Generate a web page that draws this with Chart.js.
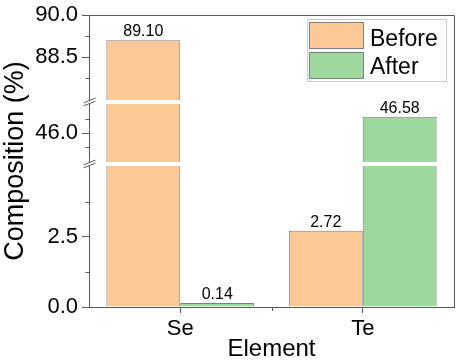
<!DOCTYPE html>
<html>
<head>
<meta charset="utf-8">
<script src="https://cdn.jsdelivr.net/npm/chart.js@4/dist/chart.umd.min.js"></script>
<style>
  body { margin: 0; background: #fff; }
  #wrap { position: relative; width: 460px; height: 361px; font-family: "Liberation Sans", Arial, sans-serif; }
  #legend { position: absolute; left: 307px; top: 19px; width: 138px; height: 61px; border: 1px solid #c8c8c8; }
  .sw { position: absolute; width: 53px; height: 25px; border: 1px solid #7f7f7f; }
  .lt { position: absolute; font-size: 23px; line-height: 23px; color: #000; }
</style>
</head>
<body>
<div id="wrap">
  <canvas id="chart" width="460" height="361"></canvas>
  <div id="legend"></div>
  <div class="sw" style="left:309px; top:22px; background:#FBC896;"></div>
  <div class="sw" style="left:309px; top:52px; background:#9DD89D;"></div>
  <div class="lt" style="left:370px; top:27px;">Before</div>
  <div class="lt" style="left:370px; top:55px;">After</div>
</div>
<script>
// Daten
const elements = ['Se', 'Te'];
const before = [89.10, 2.72];
const after = [0.14, 46.58];

// gebrochene y-Achse
const axisSegments = [[0, 5], [45, 47], [87, 90]];
const yMajorTicks = [0, 2.5, 46, 88.5, 90];
const yMinorTicks = [1.25, 3.75, 45.5, 46.5, 87.75, 89.25];
const breakGap = 6;

const axisColor = '#595959';

class BrokenAxis extends Chart.LinearScale {
    buildTicks() {
        super.buildTicks();
        return yMajorTicks.map(v => ({ value: v }));
    }
    unitDecimal() {
        const total = axisSegments.reduce((s, seg) => s + seg[1] - seg[0], 0);
        const gap = breakGap / this._length;
        return { gap: gap, unit: (1 - gap * (axisSegments.length - 1)) / total };
    }
    getPixelForValue(value) {
        if (value === null || isNaN(value)) return NaN;
        const { gap, unit } = this.unitDecimal();
        let dec = 0;
        for (let i = 0; i < axisSegments.length; i++) {
            const lo = axisSegments[i][0], hi = axisSegments[i][1];
            if (value <= hi || i === axisSegments.length - 1) {
                dec += (Math.max(value, lo) - lo) * unit;
                return this.getPixelForDecimal(dec);
            }
            dec += (hi - lo) * unit + gap;
        }
    }
    getValueForPixel(pixel) {
        const { gap, unit } = this.unitDecimal();
        let dec = this.getDecimalForPixel(pixel);
        for (let i = 0; i < axisSegments.length; i++) {
            const lo = axisSegments[i][0], hi = axisSegments[i][1];
            const len = (hi - lo) * unit;
            if (dec <= len || i === axisSegments.length - 1) return lo + Math.max(dec, 0) / unit;
            dec -= len + gap;
        }
    }
}
BrokenAxis.id = 'broken';
BrokenAxis.defaults = Chart.LinearScale.defaults;
Chart.register(BrokenAxis);

// Achsenbrüche, Nebenstriche und Rahmen
const brokenAxisPlugin = {
    id: 'brokenAxisPlugin',
    afterDatasetsDraw(chart) {
        const ctx = chart.ctx;
        const area = chart.chartArea;
        const y = chart.scales.y;
        const x = chart.scales.x;
        ctx.save();
        ctx.strokeStyle = axisColor;
        ctx.lineWidth = 1;

        // Nebenstriche y
        yMinorTicks.forEach(v => {
            const py = Math.round(y.getPixelForValue(v)) + 0.5;
            ctx.beginPath();
            ctx.moveTo(area.left - 3.5, py);
            ctx.lineTo(area.left, py);
            ctx.stroke();
        });
        // Nebenstrich x zwischen den Kategorien
        const mx = Math.round((x.getPixelForValue(0) + x.getPixelForValue(1)) / 2) + 0.5;
        ctx.beginPath();
        ctx.moveTo(mx, area.bottom);
        ctx.lineTo(mx, area.bottom + 4);
        ctx.stroke();

        // Rahmen oben und rechts
        ctx.beginPath();
        ctx.moveTo(area.left, Math.round(area.top) + 0.5);
        ctx.lineTo(Math.round(area.right) + 0.5, Math.round(area.top) + 0.5);
        ctx.lineTo(Math.round(area.right) + 0.5, area.bottom);
        ctx.stroke();

        // weisse Luecken und Schraegstriche
        for (let i = 0; i < axisSegments.length - 1; i++) {
            const pBot = y.getPixelForValue(axisSegments[i][1]);
            const pTop = y.getPixelForValue(axisSegments[i + 1][0]);
            const top = Math.min(pTop, pBot), bot = Math.max(pTop, pBot);
            ctx.fillStyle = '#fff';
            ctx.fillRect(area.left - 2, top + 1, area.right - area.left + 1, bot - top - 2);
            const ax = area.left + 0.5;
            [top + 1.5, bot - 1.5].forEach(sy => {
                ctx.beginPath();
                ctx.moveTo(ax - 6, sy + 2.3);
                ctx.lineTo(ax + 6, sy - 2.3);
                ctx.stroke();
            });
        }
        ctx.restore();
    }
};

// Werte ueber den Balken
const valueLabels = {
    id: 'valueLabels',
    afterDatasetsDraw(chart) {
        const ctx = chart.ctx;
        ctx.save();
        ctx.font = '16px "Liberation Sans", Arial, sans-serif';
        ctx.fillStyle = '#000';
        ctx.textAlign = 'center';
        ctx.textBaseline = 'alphabetic';
        chart.data.datasets.forEach((ds, i) => {
            chart.getDatasetMeta(i).data.forEach((bar, j) => {
                ctx.fillText(ds.data[j].toFixed(2), bar.x, bar.y - 4);
            });
        });
        ctx.restore();
    }
};

Chart.defaults.font.family = '"Liberation Sans", Arial, sans-serif';
Chart.defaults.color = '#000';

new Chart(document.getElementById('chart'), {
    type: 'bar',
    data: {
        labels: elements,
        datasets: [{
            label: 'Before',
            data: before,
            backgroundColor: '#FBC896',
            borderColor: '#7f7f7f',
            borderWidth: 1
        }, {
            label: 'After',
            data: after,
            backgroundColor: '#9DD89D',
            borderColor: '#7f7f7f',
            borderWidth: 1
        }]
    },
    options: {
        responsive: false,
        animation: false,
        events: [],
        layout: {
            padding: { top: 12, right: 6, left: 0, bottom: 0 }
        },
        datasets: {
            bar: { categoryPercentage: 0.81, barPercentage: 1 }
        },
        scales: {
            x: {
                offset: true,
                grid: { offset: false, drawOnChartArea: false, tickLength: 6, color: axisColor },
                border: { color: axisColor, width: 1 },
                ticks: { font: { size: 22 }, padding: 3 },
                title: {
                    display: true,
                    text: 'Element',
                    font: { size: 24, lineHeight: 1 },
                    padding: { top: 0, bottom: 0 }
                },
                afterFit: scale => { scale.height = 54; }
            },
            y: {
                type: 'broken',
                min: 0,
                max: 90,
                grid: { drawOnChartArea: false, tickLength: 7, color: axisColor },
                border: { color: axisColor, width: 1 },
                ticks: {
                    autoSkip: false,
                    padding: 4,
                    font: { size: 22, lineHeight: 1 },
                    callback: v => v.toFixed(1)
                },
                title: {
                    display: true,
                    text: 'Composition (%)',
                    font: { size: 27, lineHeight: 1 },
                    padding: { top: 2, bottom: 0 }
                },
                afterFit: scale => { scale.width = 89; }
            }
        },
        plugins: {
            legend: { display: false },
            tooltip: { enabled: false }
        }
    },
    plugins: [brokenAxisPlugin, valueLabels]
});
</script>
</body>
</html>
